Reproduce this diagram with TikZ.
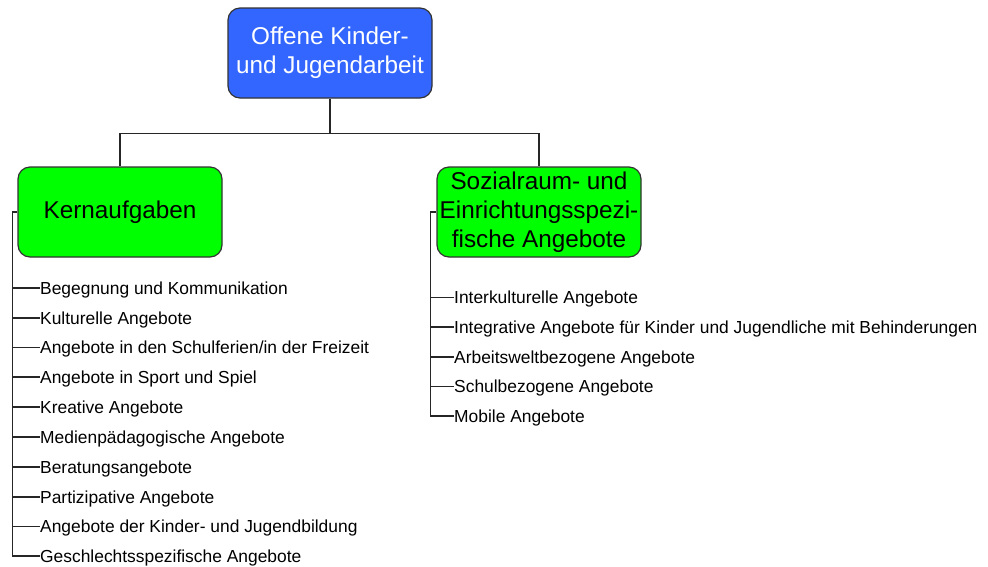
\documentclass[tikz,border=0pt]{standalone}
\usepackage{fontspec}
\setmainfont{Liberation Sans}
\usepackage{tikz}
\usetikzlibrary{positioning}
\definecolor{rootblue}{RGB}{51,102,255}
\definecolor{boxgreen}{RGB}{0,255,0}

\begin{document}
\begin{tikzpicture}[
    x=1pt, y=1pt,
    box/.style={draw=black!80, line width=1.2pt, rounded corners=12pt, align=center,
        minimum width=204pt, minimum height=90pt, inner sep=2pt,
        font=\fontsize{24.3}{29}\selectfont},
    item/.style={anchor=west, inner sep=0pt, text height=12.5pt, text depth=0pt,
        font=\fontsize{17.4}{20}\selectfont},
    link/.style={draw=black!85, line width=1.2pt}
]
    \useasboundingbox (0,0) rectangle (988,-566);

    % Top (the whole field)
    \node[box, fill=rootblue, text=white] (root) at (330,-53) {Offene Kinder-\\und Jugendarbeit};

    % The two branches
    \node[box, fill=boxgreen] (kern) at (120,-212) {Kernaufgaben};
    \node[box, fill=boxgreen] (sozial) at (539,-212) {Sozialraum- und\\Einrichtungsspezi-\\fische Angebote};

    % Left list (Kernaufgaben)
    \node[item] (k1) at (40,-288) {Begegnung und Kommunikation};
    \node[item] (k2) at (40,-318) {Kulturelle Angebote};
    \node[item] (k3) at (40,-347.5) {Angebote in den Schulferien/in der Freizeit};
    \node[item] (k4) at (40,-377) {Angebote in Sport und Spiel};
    \node[item] (k5) at (40,-407) {Kreative Angebote};
    \node[item] (k6) at (40,-437) {Medienpädagogische Angebote};
    \node[item] (k7) at (40,-467) {Beratungsangebote};
    \node[item] (k8) at (40,-497) {Partizipative Angebote};
    \node[item] (k9) at (40,-526.5) {Angebote der Kinder- und Jugendbildung};
    \node[item] (k10) at (40,-556) {Geschlechtsspezifische Angebote};

    % Right list (Sozialraum)
    \node[item] (s1) at (454,-297.5) {Interkulturelle Angebote};
    \node[item] (s2) at (454,-327) {Integrative Angebote für Kinder und Jugendliche mit Behinderungen};
    \node[item] (s3) at (454,-357) {Arbeitsweltbezogene Angebote};
    \node[item] (s4) at (454,-386.5) {Schulbezogene Angebote};
    \node[item] (s5) at (454,-416) {Mobile Angebote};

    % Connectors from the top box
    \coordinate (fork) at ([yshift=-35pt]root.south);
    \draw[link] (root.south) -- (fork);
    \draw[link] (fork) -| (kern.north);
    \draw[link] (fork) -| (sozial.north);

    % Left tree
    \draw[link] (kern.west) -- ++(-5,0);
    \draw[link] ([xshift=-5pt]kern.west) |- (k1.west);
    \draw[link] ([xshift=-5pt]kern.west) |- (k2.west);
    \draw[link] ([xshift=-5pt]kern.west) |- (k3.west);
    \draw[link] ([xshift=-5pt]kern.west) |- (k4.west);
    \draw[link] ([xshift=-5pt]kern.west) |- (k5.west);
    \draw[link] ([xshift=-5pt]kern.west) |- (k6.west);
    \draw[link] ([xshift=-5pt]kern.west) |- (k7.west);
    \draw[link] ([xshift=-5pt]kern.west) |- (k8.west);
    \draw[link] ([xshift=-5pt]kern.west) |- (k9.west);
    \draw[link] ([xshift=-5pt]kern.west) |- (k10.west);

    % Right tree
    \draw[link] (sozial.west) -- ++(-6,0);
    \draw[link] ([xshift=-6pt]sozial.west) |- (s1.west);
    \draw[link] ([xshift=-6pt]sozial.west) |- (s2.west);
    \draw[link] ([xshift=-6pt]sozial.west) |- (s3.west);
    \draw[link] ([xshift=-6pt]sozial.west) |- (s4.west);
    \draw[link] ([xshift=-6pt]sozial.west) |- (s5.west);
\end{tikzpicture}
\end{document}
